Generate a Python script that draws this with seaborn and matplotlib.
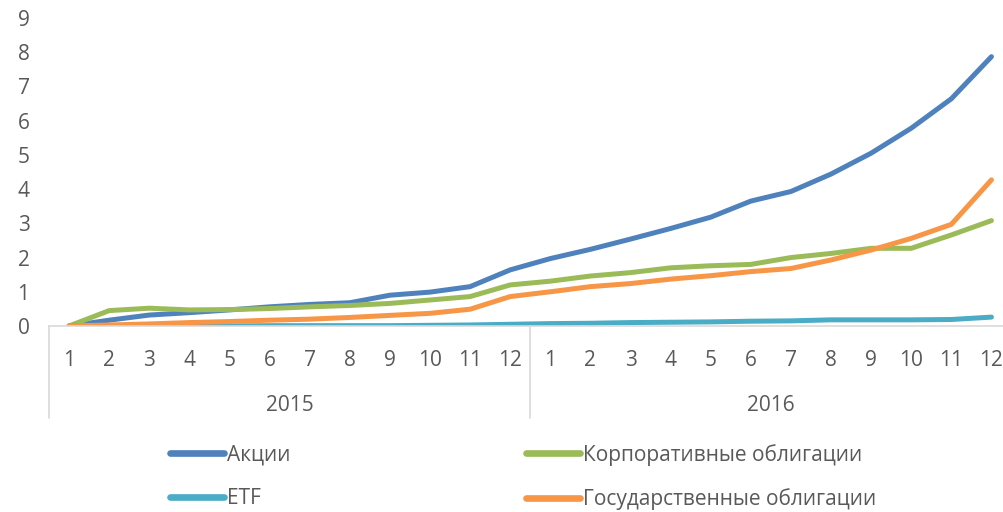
import pandas as pd
import seaborn as sns
import matplotlib.pyplot as plt
from matplotlib.ticker import FixedLocator, MultipleLocator

# Monthly values, Jan 2015 .. Dec 2016
years = ["2015", "2016"]
months = list(range(1, 13))

akcii = [0.0, 0.17, 0.32, 0.39, 0.47, 0.56, 0.63, 0.68, 0.90, 0.99, 1.15, 1.64,
         1.97, 2.24, 2.54, 2.85, 3.18, 3.65, 3.93, 4.44, 5.05, 5.78, 6.64, 7.87]
korp = [0.0, 0.45, 0.52, 0.47, 0.48, 0.51, 0.56, 0.60, 0.66, 0.76, 0.86, 1.20,
        1.31, 1.46, 1.56, 1.70, 1.76, 1.80, 2.00, 2.12, 2.27, 2.27, 2.66, 3.08]
etf = [0.0, 0.0, 0.0, 0.0, 0.0, 0.01, 0.01, 0.01, 0.01, 0.02, 0.03, 0.05,
       0.07, 0.08, 0.10, 0.11, 0.12, 0.14, 0.15, 0.18, 0.18, 0.18, 0.19, 0.26]
gos = [0.0, 0.03, 0.06, 0.10, 0.13, 0.17, 0.20, 0.25, 0.31, 0.37, 0.49, 0.86,
       1.00, 1.15, 1.24, 1.37, 1.47, 1.59, 1.68, 1.93, 2.22, 2.56, 2.97, 4.27]

series = {
    "Акции": akcii,
    "Корпоративные облигации": korp,
    "ETF": etf,
    "Государственные облигации": gos,
}
colors = {
    "Акции": "#4F81BD",
    "Корпоративные облигации": "#9BBB59",
    "ETF": "#4BACC6",
    "Государственные облигации": "#F79646",
}

rows = []
for name, vals in series.items():
    for i, v in enumerate(vals):
        rows.append({"idx": i, "series": name, "value": v})
df = pd.DataFrame(rows)

sns.set_style("white")
plt.rcParams["font.family"] = ["Open Sans", "DejaVu Sans"]
text_color = "#595959"
axis_color = "#D9D9D9"

fig = plt.figure(figsize=(10.04, 5.12), dpi=100)
ax = fig.add_axes([49 / 1004, 186 / 512, 962.5 / 1004, 308 / 512])

sns.lineplot(data=df, x="idx", y="value", hue="series",
             hue_order=list(series.keys()), palette=colors,
             linewidth=3.6, ax=ax, legend=False)
for line in ax.get_lines():
    line.set_solid_capstyle("round")
    line.set_solid_joinstyle("round")

ax.set_xlim(-0.5, 23.5)
ax.set_ylim(0, 9)
ax.yaxis.set_major_locator(MultipleLocator(1))
ax.set_xlabel("")
ax.set_ylabel("")

for s in ["top", "right", "left"]:
    ax.spines[s].set_visible(False)
ax.spines["bottom"].set_color(axis_color)
ax.spines["bottom"].set_linewidth(1.2)

ax.set_xticks(range(24))
ax.set_xticklabels([str(m) for _ in years for m in months])
ax.xaxis.set_minor_locator(FixedLocator([i - 0.5 for i in range(25)]))
ax.tick_params(axis="x", which="major", length=0, pad=17,
               labelsize=15, labelcolor=text_color)
ax.tick_params(axis="x", which="minor", length=5, width=1.2,
               color=axis_color, direction="out")
ax.tick_params(axis="y", length=0, pad=14, labelsize=15,
               labelcolor=text_color)

# year labels and separators under the month labels
trans = ax.get_xaxis_transform()
for k, yr in enumerate(years):
    ax.text(5.5 + 12 * k, -0.258, yr, transform=trans, ha="center",
            va="center", fontsize=15, color=text_color)
for xb in [-0.5, 11.5, 23.5]:
    ax.plot([xb, xb], [0, -0.30], transform=trans, color=axis_color,
            linewidth=1.2, clip_on=False)

# legend, row-major order like the original
handles = [plt.Line2D([], [], color=colors[n], linewidth=4.8) for n in series]
names = list(series.keys())
order = [0, 2, 1, 3]
leg = fig.legend([handles[i] for i in order], [names[i] for i in order],
                 ncol=2, loc="upper left",
                 bbox_to_anchor=(151 / 1004, 1 - 425 / 512),
                 frameon=False, fontsize=15, labelcolor=text_color,
                 handlelength=2.6, handletextpad=0.15, columnspacing=11.3,
                 labelspacing=1.08)

fig.savefig("out.png", dpi=100)
